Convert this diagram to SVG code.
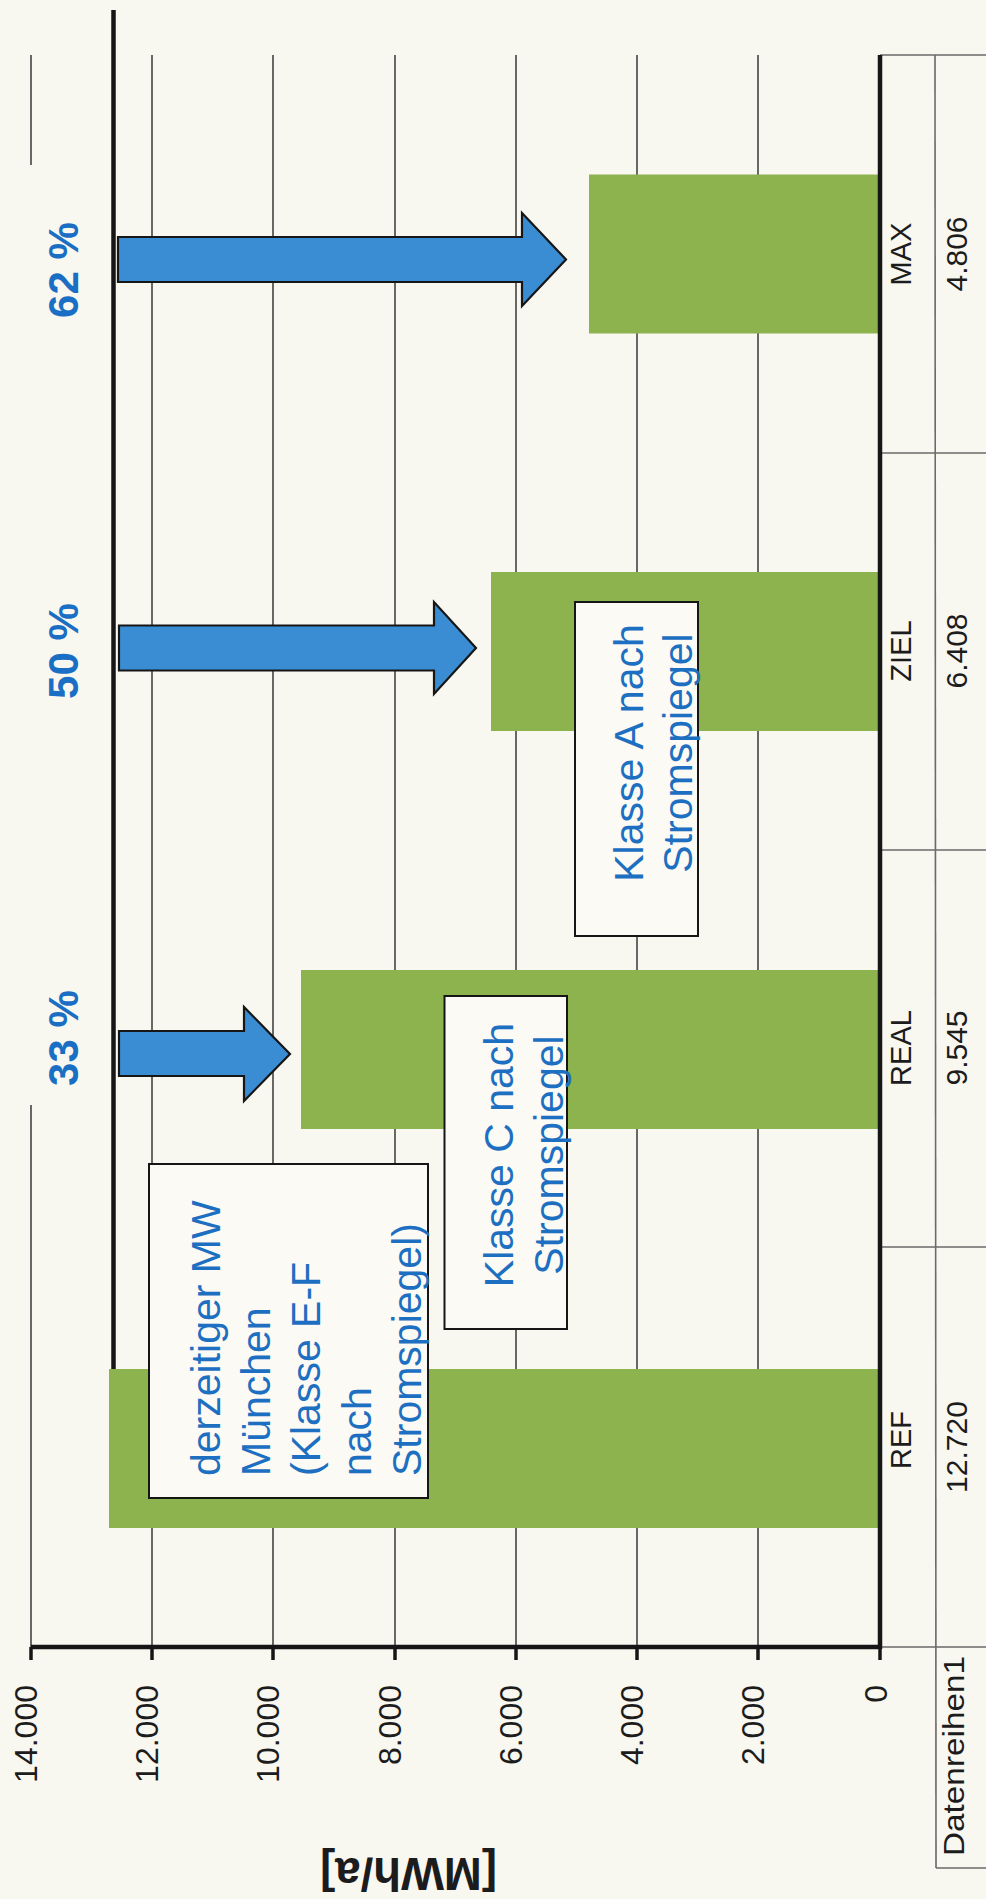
<svg xmlns="http://www.w3.org/2000/svg" width="986" height="1899" viewBox="0 0 986 1899">
<style>
.grid{stroke:#2a2a2a;stroke-width:1.4;fill:none}
.axis{stroke:#161616;stroke-width:4.5;fill:none}
.tbl{stroke:#6a6a6a;stroke-width:1.6;fill:none}
.bar{fill:#8db34f}
.arrow{fill:#3a8dd3;stroke:#161616;stroke-width:2.2;stroke-linejoin:miter}
.box{fill:#fbfaf4;stroke:#161616;stroke-width:2}
.lbl{font-family:"Liberation Sans",Arial,sans-serif;fill:#1c1c1c}
.btx{font-family:"Liberation Sans",Arial,sans-serif;font-size:41px;fill:#1d6fc1}
.pct{font-family:"Liberation Sans",Arial,sans-serif;font-size:42px;font-weight:bold;fill:#1a6fc4}
</style>
<rect x="0" y="0" width="986" height="1899" fill="#f8f7f0"/>
<g id="grid">
<line class="grid" x1="31" y1="55" x2="31" y2="165"/>
<line class="grid" x1="31" y1="1105" x2="31" y2="1647"/>
<line class="grid" x1="152" y1="55" x2="152" y2="1647"/>
<line class="grid" x1="273" y1="55" x2="273" y2="1647"/>
<line class="grid" x1="395" y1="55" x2="395" y2="1647"/>
<line class="grid" x1="516" y1="55" x2="516" y2="1647"/>
<line class="grid" x1="637" y1="55" x2="637" y2="1647"/>
<line class="grid" x1="758" y1="55" x2="758" y2="1647"/>
</g>
<g id="ref-line"><line class="axis" x1="113.5" y1="10" x2="113.5" y2="1369"/></g>
<g id="bar-ref"><rect class="bar" x="109" y="1369" width="771" height="159"/></g>
<g id="bar-real"><rect class="bar" x="301" y="970" width="579" height="159"/></g>
<g id="bar-ziel"><rect class="bar" x="491" y="572" width="389" height="159"/></g>
<g id="bar-max"><rect class="bar" x="589" y="174.5" width="291" height="159"/></g>
<g id="table">
<line class="tbl" x1="880" y1="55" x2="986" y2="55"/>
<line class="tbl" x1="880" y1="453" x2="986" y2="453"/>
<line class="tbl" x1="880" y1="850" x2="986" y2="850"/>
<line class="tbl" x1="880" y1="1247" x2="986" y2="1247"/>
<line class="tbl" x1="880" y1="1647" x2="986" y2="1647"/>
<line class="tbl" x1="935" y1="55" x2="936" y2="1868"/>
<line class="tbl" x1="936" y1="1868" x2="986" y2="1868"/>
<g class="lbl" font-size="29">
<text transform="rotate(-90 911 254)" x="911" y="254" text-anchor="middle">MAX</text>
<text transform="rotate(-90 911 651)" x="911" y="651" text-anchor="middle">ZIEL</text>
<text transform="rotate(-90 911 1048)" x="911" y="1048" text-anchor="middle">REAL</text>
<text transform="rotate(-90 911 1440)" x="911" y="1440" text-anchor="middle">REF</text>
</g>
<g class="lbl" font-size="30">
<text transform="rotate(-90 967 254)" x="967" y="254" text-anchor="middle">4.806</text>
<text transform="rotate(-90 967 651)" x="967" y="651" text-anchor="middle">6.408</text>
<text transform="rotate(-90 967 1048)" x="967" y="1048" text-anchor="middle">9.545</text>
<text transform="rotate(-90 967 1447)" x="967" y="1447" text-anchor="middle">12.720</text>
<text transform="rotate(-90 964 1756)" x="964" y="1756" text-anchor="middle" textLength="200" lengthAdjust="spacingAndGlyphs">Datenreihen1</text>
</g>
</g>
<g id="axes">
<line class="axis" x1="880" y1="55" x2="880" y2="1649"/>
<line class="axis" x1="31" y1="1647" x2="882" y2="1647"/>
<g stroke="#161616" stroke-width="3.5">
<line x1="31" y1="1647" x2="31" y2="1660"/>
<line x1="152" y1="1647" x2="152" y2="1660"/>
<line x1="273" y1="1647" x2="273" y2="1660"/>
<line x1="395" y1="1647" x2="395" y2="1660"/>
<line x1="516" y1="1647" x2="516" y2="1660"/>
<line x1="637" y1="1647" x2="637" y2="1660"/>
<line x1="758" y1="1647" x2="758" y2="1660"/>
<line x1="880" y1="1647" x2="880" y2="1660"/>
</g>
<g class="lbl" font-size="32" text-anchor="end">
<text transform="rotate(-90 37 1685)" x="37" y="1685">14.000</text>
<text transform="rotate(-90 158 1685)" x="158" y="1685">12.000</text>
<text transform="rotate(-90 279 1685)" x="279" y="1685">10.000</text>
<text transform="rotate(-90 401 1685)" x="401" y="1685">8.000</text>
<text transform="rotate(-90 522 1685)" x="522" y="1685">6.000</text>
<text transform="rotate(-90 643 1685)" x="643" y="1685">4.000</text>
<text transform="rotate(-90 764 1685)" x="764" y="1685">2.000</text>
<text transform="rotate(-90 887 1685)" x="887" y="1685">0</text>
</g>
<text class="lbl" font-size="46" font-weight="bold" transform="rotate(180 408.5 1858)" x="408.5" y="1858" text-anchor="middle" textLength="177" lengthAdjust="spacingAndGlyphs">[MWh/a]</text>
</g>
<g id="connectors">
<polygon class="arrow" points="118,237 522,237 522,213 566,259.5 522,306 522,282 118,282"/>
<polygon class="arrow" points="119,625.5 434,625.5 434,602 476,648 434,694 434,670.5 119,670.5"/>
<polygon class="arrow" points="119,1031 244,1031 244,1007 290,1054 244,1101 244,1076 119,1076"/>
</g>
<g id="pct-labels">
<text class="pct" transform="rotate(-90 78 270)" x="78" y="270" text-anchor="middle">62 %</text>
<text class="pct" transform="rotate(-90 78 651)" x="78" y="651" text-anchor="middle">50 %</text>
<text class="pct" transform="rotate(-90 78 1038)" x="78" y="1038" text-anchor="middle">33 %</text>
</g>
<g id="box-ref">
<rect class="box" x="149" y="1164" width="279" height="334"/>
<text class="btx" transform="rotate(-90 220 1476)" x="220" y="1476">derzeitiger MW</text>
<text class="btx" transform="rotate(-90 270 1476)" x="270" y="1476">München</text>
<text class="btx" transform="rotate(-90 320 1476)" x="320" y="1476">(Klasse E-F</text>
<text class="btx" transform="rotate(-90 371 1476)" x="371" y="1476">nach</text>
<text class="btx" transform="rotate(-90 421 1476)" x="421" y="1476">Stromspiegel)</text>
</g>
<g id="box-real">
<rect class="box" x="444.5" y="996" width="122.5" height="333"/>
<text class="btx" transform="rotate(-90 513 1155)" x="513" y="1155" text-anchor="middle">Klasse C nach</text>
<text class="btx" transform="rotate(-90 563 1155)" x="563" y="1155" text-anchor="middle">Stromspiegel</text>
</g>
<g id="box-ziel">
<rect class="box" x="575" y="602" width="123" height="334"/>
<text class="btx" transform="rotate(-90 643 753)" x="643" y="753" text-anchor="middle">Klasse A nach</text>
<text class="btx" transform="rotate(-90 692 753)" x="692" y="753" text-anchor="middle">Stromspiegel</text>
</g>
</svg>
